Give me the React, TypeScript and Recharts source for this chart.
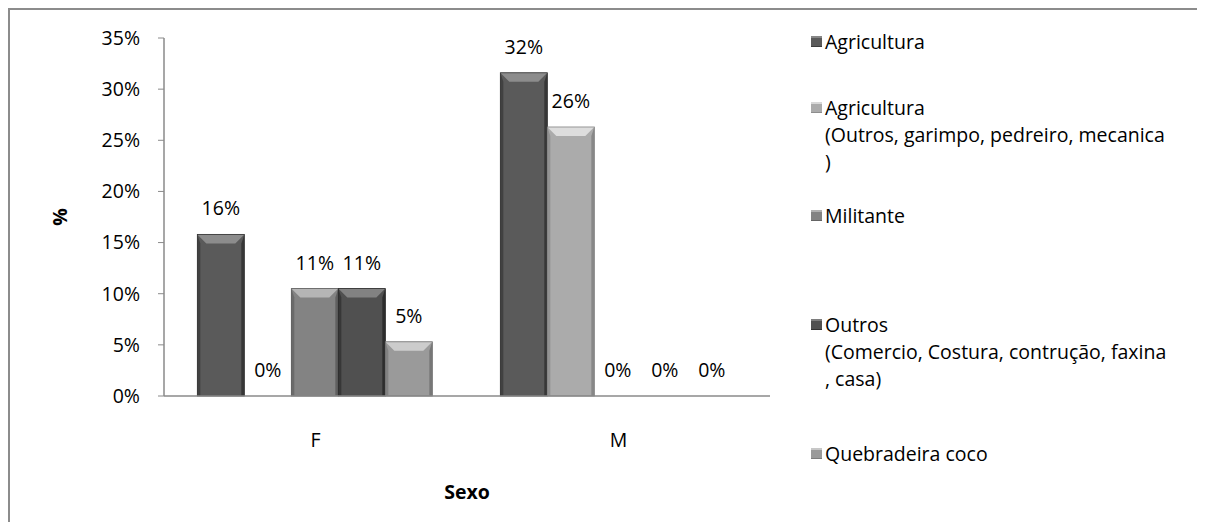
import React from 'react';
import { BarChart, Bar, XAxis, YAxis, LabelList } from 'recharts';

const categories = ['F', 'M'];
const agricultura = [0.158, 0.316];
const agriculturaOutros = [0, 0.263];
const militante = [0.105, 0];
const outros = [0.105, 0];
const quebradeira = [0.053, 0];
const yTicks = [0, 0.05, 0.1, 0.15, 0.2, 0.25, 0.3, 0.35];

const seriesKeys = ['agricultura', 'agriculturaOutros', 'militante', 'outros', 'quebradeira'];
const seriesNames = [
  'Agricultura',
  'Agricultura (Outros, garimpo, pedreiro, mecanica )',
  'Militante',
  'Outros (Comercio, Costura, contrução, faxina , casa)',
  'Quebradeira coco',
];
const legendLines = [
  ['Agricultura'],
  ['Agricultura', '(Outros, garimpo, pedreiro, mecanica', ')'],
  ['Militante'],
  ['Outros', '(Comercio, Costura, contrução, faxina', ', casa)'],
  ['Quebradeira coco'],
];
const seriesColors = ['#5a5a5a', '#ababab', '#838383', '#505050', '#9a9a9a'];

const data = categories.map((c, i) => ({
  cat: c,
  agricultura: agricultura[i],
  agriculturaOutros: agriculturaOutros[i],
  militante: militante[i],
  outros: outros[i],
  quebradeira: quebradeira[i],
}));

const FONT = '"Open Sans", sans-serif';
const FS = 19.5;

function shade(hex: string, amt: number) {
  const n = parseInt(hex.slice(1), 16);
  const f = (v: number) => Math.max(0, Math.min(255, Math.round(v + amt)));
  const r = f((n >> 16) & 255), g = f((n >> 8) & 255), b = f(n & 255);
  return `rgb(${r},${g},${b})`;
}

const makeBevel = (color: string) => (props: any) => {
  const { x, y, width, height } = props;
  if (!height || height <= 0) return <g />;
  const b = Math.min(9, height / 2);
  const s = Math.min(3, width / 6);
  return (
    <g>
      <rect x={x} y={y} width={width} height={height} fill={color} />
      <polygon
        points={`${x},${y} ${x + s},${y + b} ${x + s},${y + height} ${x},${y + height}`}
        fill={shade(color, -25)}
      />
      <polygon
        points={`${x + width},${y} ${x + width - s},${y + b} ${x + width - s},${y + height} ${x + width},${y + height}`}
        fill={shade(color, -35)}
      />
      <polygon
        points={`${x},${y} ${x + width},${y} ${x + width - s - 6},${y + b} ${x + s + 6},${y + b}`}
        fill={shade(color, 50)}
      />
      <rect x={x} y={y} width={width} height={height} fill="none" stroke={shade(color, -40)} strokeWidth={0.8} />
    </g>
  );
};

const legendTops = [31, 97, 205, 314, 443];

const CustomLegend = () => (
  <div style={{ position: 'absolute', left: 801, top: 0, width: 390, height: 490, fontFamily: FONT, fontSize: FS, color: '#000' }}>
    {legendLines.map((lines, i) => (
      <div key={i} style={{ position: 'absolute', left: 0, top: legendTops[i] - 13.5 }} title={seriesNames[i]}>
        <div
          style={{
            position: 'absolute',
            left: 0,
            top: 8,
            width: 11,
            height: 11,
            background: seriesColors[i],
            boxShadow: `inset 0 2px 0 ${shade(seriesColors[i], 45)}, inset 0 -1px 0 ${shade(seriesColors[i], -30)}`,
          }}
        />
        <div style={{ marginLeft: 14, lineHeight: '27px', whiteSpace: 'nowrap' }}>
          {lines.map((l, j) => (
            <div key={j}>{l}</div>
          ))}
        </div>
      </div>
    ))}
  </div>
);

const pct = (v: number) => `${Math.round(v * 100)}%`;

export default function App() {
  return (
    <div
      style={{
        position: 'relative',
        width: 1195,
        height: 520,
        marginBottom: -8,
        borderTop: '2px solid #8c8c8c',
        borderLeft: '2px solid #8c8c8c',
        background: '#fff',
      }}
    >
      <div style={{ position: 'absolute', left: 0, top: 0 }}>
        <BarChart
          width={1195}
          height={510}
          data={data}
          margin={{ top: 28, right: 435, bottom: 24, left: 74 }}
          barCategoryGap="11%"
          barGap={0}
        >
          <XAxis
            dataKey="cat"
            height={100}
            tickLine={false}
            tickSize={0}
            tickMargin={37}
            axisLine={{ stroke: '#8a8a8a', strokeWidth: 1.5 }}
            tick={{ fill: '#000', fontSize: FS, fontFamily: FONT }}
            label={{
              value: 'Sexo',
              position: 'insideBottom',
              offset: -3,
              style: { fill: '#000', fontSize: FS, fontFamily: FONT, fontWeight: 'bold' },
            }}
          />
          <YAxis
            width={80}
            domain={[0, 0.35]}
            ticks={yTicks}
            tickFormatter={pct}
            tickSize={6}
            tickMargin={18}
            tickLine={{ stroke: '#8a8a8a' }}
            axisLine={{ stroke: '#8a8a8a', strokeWidth: 1.5 }}
            tick={{ fill: '#000', fontSize: FS, fontFamily: FONT }}
            label={{
              value: '%',
              angle: -90,
              position: 'insideLeft',
              offset: -24,
              style: { fill: '#000', fontSize: FS, fontFamily: FONT, fontWeight: 'bold', textAnchor: 'middle' },
            }}
          />
          {seriesKeys.map((k, i) => (
            <Bar
              key={k}
              dataKey={k}
              name={seriesNames[i]}
              fill={seriesColors[i]}
              isAnimationActive={false}
              shape={makeBevel(seriesColors[i])}
            >
              <LabelList
                dataKey={k}
                position="top"
                offset={19}
                formatter={pct}
                style={{ fill: '#000', fontSize: FS, fontFamily: FONT }}
              />
            </Bar>
          ))}
        </BarChart>
      </div>
      <CustomLegend />
    </div>
  );
}
